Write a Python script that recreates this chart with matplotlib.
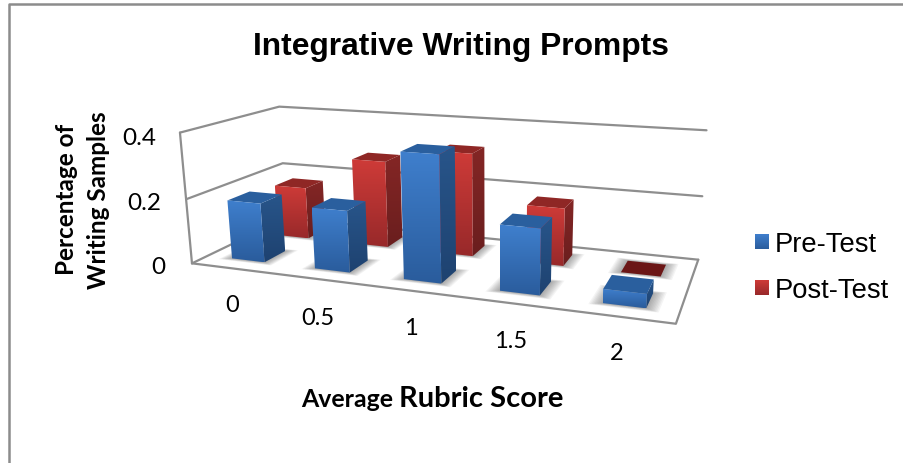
import numpy as np
import matplotlib
matplotlib.use("Agg")
import matplotlib.pyplot as plt
from matplotlib.patches import Polygon

categories = ["0", "0.5", "1", "1.5", "2"]
series_names = ["Pre-Test", "Post-Test"]
pre_test = [0.184, 0.187, 0.372, 0.19, 0.04]
post_test = [0.17, 0.278, 0.323, 0.178, 0.0]
value_ticks = [0, 0.2, 0.4]

# chart-box corners (category, depth, value) and where they land on the canvas
BOX = [(0, 0, 0), (5, 0, 0), (5, 1, 0), (0, 1, 0), (0, 0, .4), (0, 1, .4),
       (5, 1, .4), (0, 0, .2), (0, 1, .2), (5, 1, .2)]
CANVAS = [(190, 264), (676, 325), (698, 260), (288, 220), (181, 134), (278, 108),
          (707, 131), (187, 200), (282, 163), (702, 198)]

BLUE = dict(front=("#3f7fcd", "#2a5c9c"), side=("#28558a", "#1e4270"), top="#2a5f9e")
RED = dict(front=("#ce3b38", "#98292a"), side=("#842625", "#6a1e1e"), top="#8f2725")
FLAT_RED = "#6b1616"
GRID = "#8e8e8e"
BAR_W = 0.40


def fit_camera(world, image):
    rows = []
    for (u, v, w), (x, y) in zip(world, image):
        p = [u, v, w, 1]
        rows.append(p + [0, 0, 0, 0] + [-x * c for c in p])
        rows.append([0, 0, 0, 0] + p + [-y * c for c in p])
    return np.linalg.svd(np.array(rows, float))[2][-1].reshape(3, 4)


cam = fit_camera(BOX, CANVAS)


def project(u, v, w):
    x, y, h = cam @ np.array([u, v, w, 1.0])
    return x / h, y / h


def to_rgb(c):
    return np.array(matplotlib.colors.to_rgb(c))


def shaded(ax, pts, top, bottom, z):
    # vertical colour ramp clipped to the face outline
    pts = np.array(pts)
    x0, y0 = pts.min(axis=0)
    x1, y1 = pts.max(axis=0)
    ramp = np.linspace(0, 1, 64)[:, None, None]
    img = to_rgb(top) * (1 - ramp) + to_rgb(bottom) * ramp
    im = ax.imshow(img, extent=(x0, x1, y1, y0), aspect="auto", zorder=z,
                   interpolation="bilinear")
    poly = Polygon(pts, closed=True, transform=ax.transData, fc="none", ec="none")
    ax.add_patch(poly)
    im.set_clip_path(poly)


def draw_bar(ax, i, v0, v1, val, colors, z):
    u0, u1 = i + 0.5 - BAR_W / 2, i + 0.5 + BAR_W / 2
    if val == 0:
        flat = [project(u0, v0, 0), project(u1, v0, 0), project(u1, v1, 0), project(u0, v1, 0)]
        ax.add_patch(Polygon(flat, fc=FLAT_RED, ec="none", zorder=z))
        return
    front = [project(u0, v0, 0), project(u1, v0, 0), project(u1, v0, val), project(u0, v0, val)]
    side = [project(u1, v0, 0), project(u1, v1, 0), project(u1, v1, val), project(u1, v0, val)]
    top = [project(u0, v0, val), project(u1, v0, val), project(u1, v1, val), project(u0, v1, val)]
    shaded(ax, side, *colors["side"], z)
    ax.add_patch(Polygon(top, fc=colors["top"], ec="none", zorder=z + 0.1))
    shaded(ax, front, *colors["front"], z + 0.2)


def draw_shadow(ax, i, v0, v1):
    # soft contact shadow: stacked translucent footprints
    uc = i + 0.5
    for grow in np.linspace(0.12, 0.0, 10):
        half = BAR_W / 2 + grow
        grow_v = grow * 0.3
        pts = [project(uc - half, v0 - grow_v, 0), project(uc + half, v0 - grow_v, 0),
               project(uc + half, v1 + grow_v, 0), project(uc - half, v1 + grow_v, 0)]
        ax.add_patch(Polygon(pts, fc="#444444", ec="none", alpha=0.06, zorder=2))


def line3d(ax, a, b, c=None):
    pts = [project(*p) for p in (a, b, c) if p is not None]
    ax.plot(*zip(*pts), color=GRID, lw=1.6, solid_capstyle="round", zorder=1)


fig = plt.figure(figsize=(9.04, 4.64), dpi=100)
ax = fig.add_axes([0, 0, 1, 1])

# walls and floor outline
line3d(ax, (0, 0, 0), (0, 0, .4))
for t in value_ticks[1:]:
    line3d(ax, (0, 0, t), (0, 1, t), (5, 1, t))
line3d(ax, (0, 0, 0), (5, 0, 0), (5, 1, 0))
line3d(ax, (5, 1, 0), (0, 1, 0), (0, 0, 0))

ROWS = {"pre": (0.15, 0.37), "post": (0.64, 0.85)}
for i in range(len(categories)):
    draw_shadow(ax, i, *ROWS["post"])
    draw_shadow(ax, i, *ROWS["pre"])
for i, val in enumerate(post_test):
    draw_bar(ax, i, *ROWS["post"], val, RED, 3)
for i, val in enumerate(pre_test):
    draw_bar(ax, i, *ROWS["pre"], val, BLUE, 4)

# figure border, only left and top are inside the canvas
ax.plot([9, 9, 904], [464, 5, 5], color="#8c8c8c", lw=1.8, zorder=1)

ax.text(461, 47, "Integrative Writing Prompts", family="Liberation Sans", weight="bold",
        fontsize=22.85, ha="center", va="center")
ax.text(67, 199, "Percentage of", family="Lato", weight="bold", fontsize=17.5, rotation=90,
        ha="center", va="center")
ax.text(99, 200, "Writing Samples", family="Lato", weight="bold", fontsize=17.5, rotation=90,
        ha="center", va="center")

for t, rx, lab_y in zip(value_ticks, [165, 161, 156], [268, 204, 139]):
    label = "0" if t == 0 else f"{t:g}"
    ax.text(rx, lab_y, label, family="Lato", fontsize=17.5, ha="right", va="center")

for lab, lx, ly in zip(categories, [232, 318, 411, 511, 617], [306, 319, 329, 342, 354]):
    ax.text(lx, ly, lab, family="Lato", fontsize=17, ha="center", va="center")

ax.text(347, 407, "Average", family="Lato", weight="bold", fontsize=17.9, ha="center", va="baseline")
ax.text(481, 407, "Rubric Score", family="Lato", weight="bold", fontsize=21, ha="center", va="baseline")

# legend
for name, cols, sy in zip(series_names, (BLUE, RED), (235, 281)):
    shaded(ax, [(755, sy), (769, sy), (769, sy + 15), (755, sy + 15)], cols["front"][0], cols["front"][1], 5)
    ax.text(775, sy + 10, name, family="Liberation Sans", fontsize=19.7, ha="left", va="center")

ax.set_xlim(0, 904)
ax.set_ylim(464, 0)
ax.axis("off")
fig.savefig("out.png", dpi=100)
